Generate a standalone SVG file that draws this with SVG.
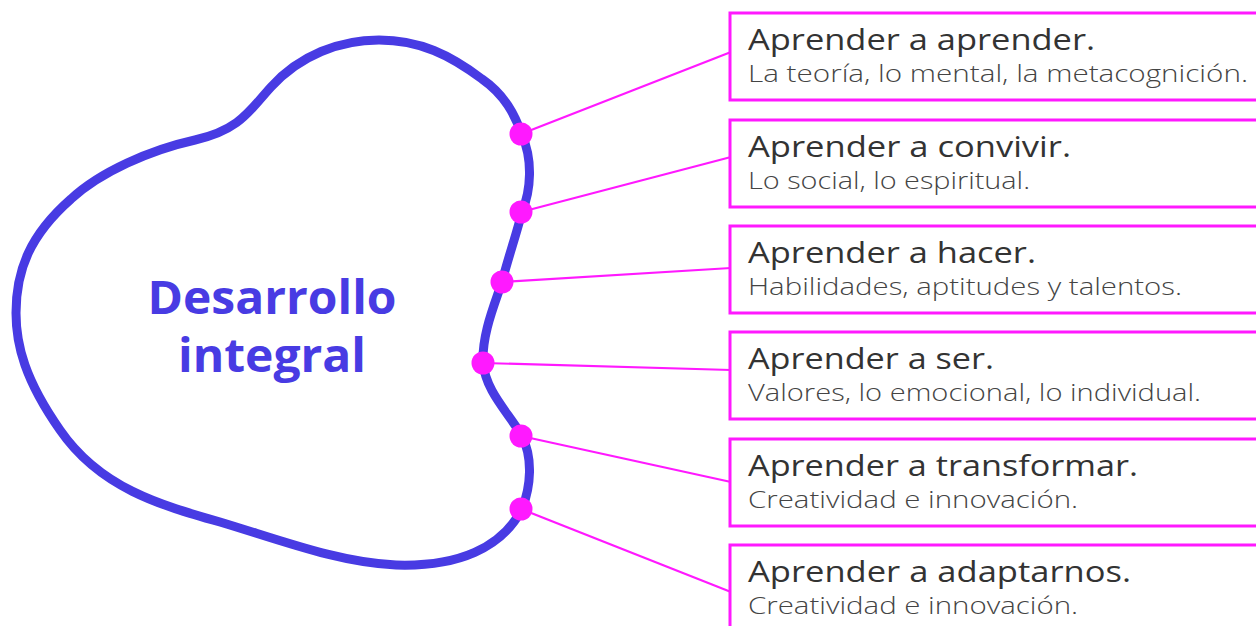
<svg xmlns="http://www.w3.org/2000/svg" width="1256" height="626" viewBox="0 0 1256 626">
<style>
.box{fill:#fff;stroke:#FF19FF;stroke-width:3}
.ln{stroke:#FF19FF;stroke-width:2.2;fill:none}
.dot{fill:#FF19FF}
.t{font-family:"Open Sans","Liberation Sans",sans-serif;font-size:30px;fill:#333;font-weight:500}
.s{font-family:"Open Sans","Liberation Sans",sans-serif;font-size:24px;fill:#444;font-weight:300}
.c{font-family:"Open Sans","Liberation Sans",sans-serif;font-size:47px;fill:#483BE3;font-weight:700;text-anchor:middle}
</style>
<rect width="1256" height="626" fill="#fff"/>
<g id="blob">
<path d="M 522 135 C 533 160, 531 190, 522 212 C 516 236, 508 258, 502 282 C 494 306, 482 334, 483 363 C 486 392, 508 412, 522 436 C 533 458, 531 486, 522 509 C 502 548, 458 567, 396 565 C 340 563, 280 540, 220 522 C 160 505, 100 488, 60 430 C 25 380, 16 345, 16 313 C 16 270, 30 235, 71 199 C 100 172, 150 150, 195 140 C 240 130, 250 110, 271 87 C 300 55, 340 40, 379 40 C 420 40, 450 55, 482 79 C 505 95, 515 115, 522 135 Z" fill="none" stroke="#483BE3" stroke-width="9"/>
<text class="c" x="272" y="314" textLength="249" lengthAdjust="spacingAndGlyphs">Desarrollo</text>
<text class="c" x="272" y="372" textLength="188" lengthAdjust="spacingAndGlyphs">integral</text>
</g>
<g id="connectors">
<line class="ln" x1="521" y1="134" x2="731" y2="52"/>
<line class="ln" x1="521" y1="212" x2="731" y2="157"/>
<line class="ln" x1="502" y1="282" x2="731" y2="268"/>
<line class="ln" x1="483" y1="363" x2="731" y2="370"/>
<line class="ln" x1="521" y1="436" x2="731" y2="482"/>
<line class="ln" x1="521" y1="509" x2="731" y2="592"/>
<circle class="dot" cx="521" cy="134" r="11.5"/>
<circle class="dot" cx="521" cy="212" r="11.5"/>
<circle class="dot" cx="502" cy="282" r="11.5"/>
<circle class="dot" cx="483" cy="363" r="11.5"/>
<circle class="dot" cx="521" cy="436" r="11.5"/>
<circle class="dot" cx="521" cy="509" r="11.5"/>
</g>
<g id="n1"><rect class="box" x="730" y="13" width="540" height="87"/><text class="t" x="748" y="50" textLength="347" lengthAdjust="spacingAndGlyphs">Aprender a aprender.</text><text class="s" x="748" y="82" textLength="500" lengthAdjust="spacingAndGlyphs">La teoría, lo mental, la metacognición.</text></g>
<g id="n2"><rect class="box" x="730" y="120" width="540" height="87"/><text class="t" x="748" y="157" textLength="323" lengthAdjust="spacingAndGlyphs">Aprender a convivir.</text><text class="s" x="748" y="189" textLength="282" lengthAdjust="spacingAndGlyphs">Lo social, lo espiritual.</text></g>
<g id="n3"><rect class="box" x="730" y="226" width="540" height="87"/><text class="t" x="748" y="263" textLength="288" lengthAdjust="spacingAndGlyphs">Aprender a hacer.</text><text class="s" x="748" y="295" textLength="434" lengthAdjust="spacingAndGlyphs">Habilidades, aptitudes y talentos.</text></g>
<g id="n4"><rect class="box" x="730" y="332" width="540" height="87"/><text class="t" x="748" y="369" textLength="246" lengthAdjust="spacingAndGlyphs">Aprender a ser.</text><text class="s" x="748" y="401" textLength="453" lengthAdjust="spacingAndGlyphs">Valores, lo emocional, lo individual.</text></g>
<g id="n5"><rect class="box" x="730" y="439" width="540" height="87"/><text class="t" x="748" y="476" textLength="390" lengthAdjust="spacingAndGlyphs">Aprender a transformar.</text><text class="s" x="748" y="508" textLength="330" lengthAdjust="spacingAndGlyphs">Creatividad e innovación.</text></g>
<g id="n6"><rect class="box" x="730" y="545" width="540" height="87"/><text class="t" x="748" y="582" textLength="383" lengthAdjust="spacingAndGlyphs">Aprender a adaptarnos.</text><text class="s" x="748" y="614" textLength="330" lengthAdjust="spacingAndGlyphs">Creatividad e innovación.</text></g>
</svg>
